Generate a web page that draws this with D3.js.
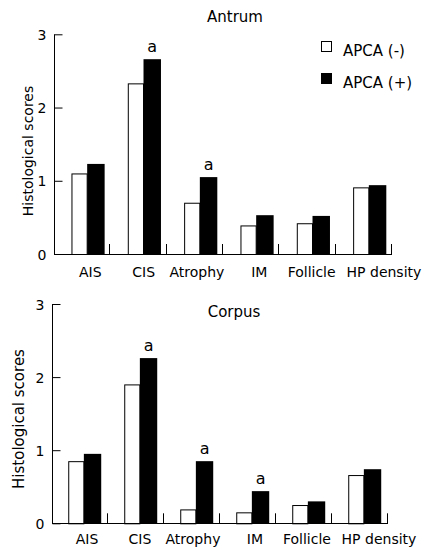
<!DOCTYPE html>
<html>
<head>
<meta charset="utf-8">
<script src="https://cdn.jsdelivr.net/npm/d3@7"></script>
<style>
  html, body { margin: 0; padding: 0; background: #fff; }
  svg { display: block; font-family: "DejaVu Sans", Verdana, sans-serif; }
</style>
</head>
<body>
<svg id="chart" width="424" height="554"></svg>
<script>
const categories = ["AIS", "CIS", "Atrophy", "IM", "Follicle", "HP density"];
const seriesNames = ["APCA (-)", "APCA (+)"];
const yTicks = [0, 1, 2, 3];

const antrumNeg = [1.10, 2.33, 0.70, 0.39, 0.42, 0.91];
const antrumPos = [1.23, 2.66, 1.05, 0.53, 0.52, 0.94];
const antrumSig = ["", "a", "a", "", "", ""];

const corpusNeg = [0.85, 1.90, 0.19, 0.15, 0.25, 0.66];
const corpusPos = [0.95, 2.26, 0.85, 0.44, 0.30, 0.74];
const corpusSig = ["", "a", "a", "a", "", ""];

// layout: horizontal nudge of category labels relative to their bar pair (px)
const labelNudge = [2, -1, -4, 2, -2, 14];

const svg = d3.select("#chart");

function panel(opts) {
  const g = svg.append("g");
  const x = d3.scaleBand().domain(categories).range([opts.x0, opts.x1]).padding(0);
  const y = d3.scaleLinear().domain([0, 3]).range([opts.y0, opts.y3]);
  const bw = x.bandwidth();
  const off = opts.off * bw, wW = 0.27 * bw, bWd = 0.31 * bw;

  const data = categories.map((c, i) => ({c, i, neg: opts.neg[i], pos: opts.pos[i], sig: opts.sig[i]}));

  // white bars
  g.selectAll(".neg").data(data).enter().append("rect")
    .attr("x", d => x(d.c) + off + 0.5)
    .attr("y", d => y(d.neg) + 0.5)
    .attr("width", wW)
    .attr("height", d => y(0) - y(d.neg))
    .attr("fill", "#fff").attr("stroke", "#000").attr("stroke-width", 1);
  // black bars
  g.selectAll(".pos").data(data).enter().append("rect")
    .attr("x", d => x(d.c) + off + wW + 0.5)
    .attr("y", d => y(d.pos))
    .attr("width", bWd)
    .attr("height", d => y(0) - y(d.pos))
    .attr("fill", "#000");
  // significance marks
  g.selectAll(".sig").data(data.filter(d => d.sig)).enter().append("text")
    .attr("x", d => x(d.c) + off + wW + bWd / 2 + 0.5)
    .attr("y", d => y(d.pos) - 7.5)
    .attr("text-anchor", "middle")
    .attr("font-size", 16)
    .text(d => d.sig);

  // y axis
  const ya = d3.axisLeft(y).tickValues(yTicks).tickSize(-8).tickPadding(8).tickFormat(d3.format("d"));
  const yg = g.append("g").attr("transform", `translate(${Math.round(opts.x0) + 0.5},0)`).call(ya);
  yg.select(".domain").attr("d", `M0,${y(3)}V${y(0)}`);
  yg.selectAll("text").attr("font-size", 14).attr("font-family", "DejaVu Sans, Verdana, sans-serif").attr("fill", "#000").attr("dy", "0.36em");
  yg.selectAll("line, path").attr("stroke", "#000");

  // x axis line and boundary ticks
  g.append("line").attr("x1", opts.x0).attr("x2", opts.x1)
    .attr("y1", Math.round(y(0)) + 0.5).attr("y2", Math.round(y(0)) + 0.5)
    .attr("stroke", "#000");
  g.selectAll(".xt").data(categories).enter().append("line")
    .attr("x1", d => Math.round(x(d) + bw) - 0.5).attr("x2", d => Math.round(x(d) + bw) - 0.5)
    .attr("y1", y(0)).attr("y2", y(0) - 10)
    .attr("stroke", "#000");
  // category labels
  g.selectAll(".xl").data(data).enter().append("text")
    .attr("x", d => x(d.c) + off + (wW + bWd) / 2 + 0.5 + labelNudge[d.i])
    .attr("y", y(0) + opts.labelDy)
    .attr("text-anchor", "middle")
    .attr("font-size", 14)
    .text(d => d.c);

  // y title
  g.append("text")
    .attr("transform", `translate(${opts.titleX},${opts.titleY}) rotate(-90)`)
    .attr("text-anchor", "middle")
    .attr("font-size", opts.titleSize)
    .text("Histological scores");

  // panel title
  g.append("text")
    .attr("x", opts.headX).attr("y", opts.headY)
    .attr("text-anchor", "middle").attr("font-size", 15)
    .text(opts.head);
}

panel({x0: 54, x1: 392, y0: 254, y3: 34.3, off: 0.31, neg: antrumNeg, pos: antrumPos, sig: antrumSig,
       labelDy: 22.5, titleX: 33, titleY: 151, titleSize: 14, head: "Antrum", headX: 235, headY: 22});
panel({x0: 52, x1: 388, y0: 523.3, y3: 304, off: 0.29, neg: corpusNeg, pos: corpusPos, sig: corpusSig,
       labelDy: 20.5, titleX: 23.5, titleY: 419, titleSize: 15, head: "Corpus", headX: 234, headY: 317});

// legend
const legend = svg.append("g");
seriesNames.forEach((s, i) => {
  const yy = [41, 73][i];
  legend.append("rect").attr("x", 321.5).attr("y", yy + 0.5).attr("width", 10).attr("height", 10)
    .attr("fill", i === 0 ? "#fff" : "#000").attr("stroke", "#000");
  legend.append("text").attr("x", 343).attr("y", yy + 15).attr("font-size", 15).text(s);
});
</script>
</body>
</html>
